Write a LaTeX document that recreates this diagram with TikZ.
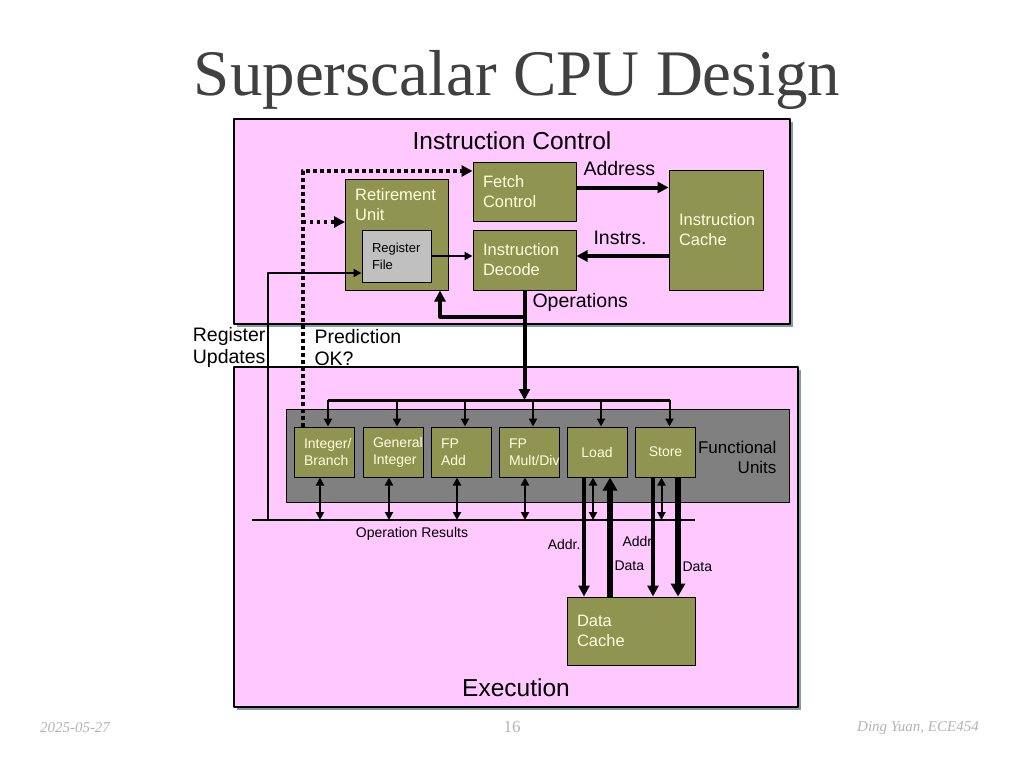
\documentclass[tikz,border=0pt]{standalone}
\usepackage{fontspec}
\setmainfont{Liberation Sans}
\newfontfamily\titlefont{Liberation Serif}
\usetikzlibrary{arrows.meta,shadows}

\definecolor{pinkbg}{HTML}{FFC8FF}
\definecolor{olivebox}{HTML}{8F9450}
\definecolor{boxtext}{HTML}{FFFFE0}
\definecolor{fugray}{HTML}{808080}
\definecolor{regfill}{HTML}{C0C0C0}
\definecolor{shadowc}{HTML}{8A9A9A}
\definecolor{titlec}{HTML}{404040}
\definecolor{footc}{HTML}{B4B4B4}

\tikzset{
  panel/.style={draw, line width=1.5pt, fill=pinkbg, inner sep=0pt,
    drop shadow={shadow xshift=3pt, shadow yshift=-3pt, fill=shadowc, opacity=1}},
  block/.style={draw, line width=1pt, fill=olivebox, text=boxtext, align=left,
    inner xsep=10pt, inner ysep=0pt, font=\fontsize{16.5}{20}\selectfont},
  unit/.style={block, minimum width=60pt, minimum height=50pt, text width=40pt,
    font=\fontsize{14}{17}\selectfont},
  bigtxt/.style={font=\fontsize{24.5}{30}\selectfont},
  midtxt/.style={font=\fontsize{19.5}{22}\selectfont, align=left},
  smalltxt/.style={font=\fontsize{14}{17}\selectfont},
  wire/.style={line width=2pt, >={Triangle[length=8pt,width=8pt]}},
  fat/.style={line width=4pt, >={Triangle[length=11pt,width=11pt]}},
  fatter/.style={line width=6pt, >={Triangle[length=13pt,width=14pt]}},
  dots/.style={line width=4pt, dash pattern=on 3.5pt off 3.5pt, >={Triangle[length=11pt,width=11pt]}},
  foot/.style={text=footc, font=\titlefont\itshape\fontsize{15}{18}\selectfont}
}

\begin{document}
\begin{tikzpicture}[x=1pt, y=-1pt, line join=round]
\fill[white] (0,0) rectangle (1024,768);
\useasboundingbox (0,0) rectangle (1024,768);

\node[anchor=base, text=titlec, font=\titlefont\fontsize{65}{70}\selectfont] (title) at (517,95) {Superscalar CPU Design};

% the two panels
\node[panel, minimum width=556pt, minimum height=205pt] (ctrl) at (512,221.5) {};
\node[panel, minimum width=564pt, minimum height=340pt] (exec) at (516,537) {};
\node[bigtxt] (ctrltitle) at (512,141) {Instruction Control};
\node[bigtxt] (exectitle) at (516,688) {Execution};

% instruction control
\node[block, minimum width=103pt, minimum height=59pt, text width=83pt] (fetch) at (524.5,191.5) {Fetch\\Control};
\node[block, minimum width=103pt, minimum height=60pt, text width=83pt] (decode) at (524.5,260) {Instruction\\Decode};
\node[block, minimum width=94pt, minimum height=120pt, text width=74pt] (cache) at (716,230) {Instruction\\Cache};
\node[block, minimum width=103pt, minimum height=111pt,
  label={[anchor=north west, align=left, text=boxtext, inner sep=0pt, xshift=10pt, yshift=-10pt,
    font=\fontsize{16.5}{20}\selectfont]north west:Retirement\\Unit}] (retire) at (397,234.5) {};
\node[block, fill=regfill, text=black, minimum width=69pt, minimum height=52pt, text width=49pt,
  font=\fontsize{13}{17}\selectfont] (regfile) at (396.5,256) {Register\\File};

\node[midtxt, anchor=west] (addrlbl) at (580,169) {Address};
\node[midtxt, anchor=west] (instrlbl) at (590,238) {Instrs.};
\node[midtxt, anchor=west] (opslbl) at (529,302) {Operations};

\draw[fat,->] (fetch.east |- 0,187.5) -- (cache.west |- 0,187.5);
\draw[fat,->] (cache.west |- regfile.east) -- (decode.east |- regfile.east);
\draw[wire,->] (regfile.east) -- (decode.west |- regfile.east);

% execution
\node[draw, line width=1pt, fill=fugray, minimum width=503pt, minimum height=93pt] (fu) at (537.5,455.5) {};
\node[unit] (intb) at (324,452) {Integer/\\Branch};
\node[unit] (gint) at (393,452) {General\\Integer};
\node[unit] (fpadd) at (461,452) {FP\\Add};
\node[unit] (fpmul) at (529,452) {FP\\Mult/Div};
\node[unit, align=center] (load) at (597,452) {Load};
\node[unit, align=center] (stor) at (665.5,452) {Store};
\node[anchor=east, align=right, font=\fontsize{17}{20}\selectfont] (fulbl) at (780,457) {Functional\\Units};

\node[block, minimum width=128pt, minimum height=68pt, text width=108pt] (dcache) at (631,631) {Data\\Cache};

\coordinate (opsbus) at (0,400);
\coordinate (resL) at (252,520);
\coordinate (resR) at (695,520);

% operations to the units
\draw[line width=3pt] ([xshift=4pt]intb.north |- opsbus) -- ([xshift=4pt]stor.north |- opsbus);
\draw[fat,->] (decode.south) -- (decode.south |- opsbus);
\draw[fat,->] ([yshift=-26pt]decode.south) -| ([xshift=-9pt]retire.south east);
\draw[wire,->] ([xshift=4pt]intb.north |- opsbus) -- ([xshift=4pt]intb.north);
\draw[wire,->] ([xshift=4pt]gint.north |- opsbus) -- ([xshift=4pt]gint.north);
\draw[wire,->] ([xshift=4pt]fpadd.north |- opsbus) -- ([xshift=4pt]fpadd.north);
\draw[wire,->] ([xshift=4pt]fpmul.north |- opsbus) -- ([xshift=4pt]fpmul.north);
\draw[wire,->] ([xshift=4pt]load.north |- opsbus) -- ([xshift=4pt]load.north);
\draw[wire,->] ([xshift=4pt]stor.north |- opsbus) -- ([xshift=4pt]stor.north);

% operation results
\draw[line width=2pt] (resL) -- (resR);
\draw[wire,<->] ([xshift=-4pt]intb.south) -- ([xshift=-4pt]intb.south |- resL);
\draw[wire,<->] ([xshift=-4pt]gint.south) -- ([xshift=-4pt]gint.south |- resL);
\draw[wire,<->] ([xshift=-4pt]fpadd.south) -- ([xshift=-4pt]fpadd.south |- resL);
\draw[wire,<->] ([xshift=-4pt]fpmul.south) -- ([xshift=-4pt]fpmul.south |- resL);
\draw[wire,<->] ([xshift=-4pt]load.south) -- ([xshift=-4pt]load.south |- resL);
\draw[wire,<->] ([xshift=-4pt]stor.south) -- ([xshift=-4pt]stor.south |- resL);
\node[smalltxt] (reslbl) at (412,534) {Operation Results};

% register updates and prediction
\coordinate (updstart) at (268,520);
\draw[wire,->] (updstart) |- ([yshift=-17pt]regfile.west);
\coordinate (predx) at ([xshift=9pt]intb.north west);
\coordinate (rtin) at ([yshift=12.5pt]retire.west);
\draw[dots,->] (predx) |- ([yshift=20.5pt]fetch.west);
\draw[dots,->] (predx |- rtin) -- (rtin);
\node[midtxt, anchor=east] (updlbl) at (269,347) {Register\\Updates};
\node[midtxt, anchor=west] (predlbl) at (311,348) {Prediction\\OK?};

% load and store
\draw[fat,->] ([xshift=-13pt]load.south) -- ([xshift=-13pt]load.south |- dcache.north);
\draw[fatter,->] ([xshift=13pt]load.south |- dcache.north) -- ([xshift=13pt]load.south);
\draw[fat,->] ([xshift=-12.5pt]stor.south) -- ([xshift=-12.5pt]stor.south |- dcache.north);
\draw[fatter,->] ([xshift=12.5pt]stor.south) -- ([xshift=12.5pt]stor.south |- dcache.north);
\node[smalltxt, anchor=east] (ldaddr) at (584,544) {Addr.};
\node[smalltxt, anchor=west] (staddr) at (619,541) {Addr};
\node[smalltxt, anchor=west] (lddata) at (611,566) {Data};
\node[smalltxt, anchor=west] (stdata) at (679,567) {Data};

% footer
\node[foot] (date) at (75,728) {2025-05-27};
\node[foot, font=\titlefont\fontsize{17}{20}\selectfont] (page) at (512,727) {16};
\node[foot] (author) at (918,728) {Ding Yuan, ECE454};
\end{tikzpicture}
\end{document}
